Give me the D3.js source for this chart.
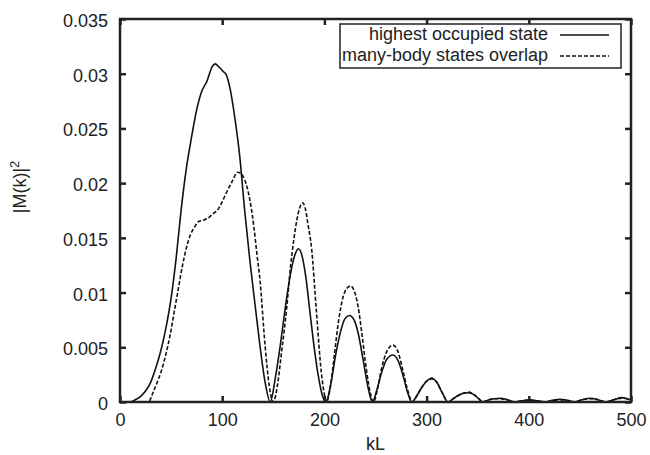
<!DOCTYPE html>
<html>
<head>
<meta charset="utf-8">
<script src="https://cdn.jsdelivr.net/npm/d3@7"></script>
<style>
  body { margin: 0; background: #fff; }
  svg text { font-family: "Liberation Sans", Arial, sans-serif; fill: #222; }
</style>
</head>
<body>
<div id="chart"></div>
<script>
// kL values and |M(k)|^2
const highestState = [
    [0,0],[10,0],[15,0.0002],[20,0.0005],[25,0.0010],[30,0.0018],[35,0.0031],[40,0.0047],
    [45,0.0068],[50,0.0095],[55,0.0132],[60,0.0177],[65,0.0214],[70,0.0242],[75,0.0267],
    [80,0.0284],[85,0.0293],[90,0.0306],[93,0.0309],[97,0.0306],[101,0.0302],[104,0.0299],
    [108,0.0285],[112,0.0262],[117,0.0226],[122,0.0175],[127,0.0130],[132,0.0090],
    [137,0.0051],[142,0.0018],[147,0],
    [152,0.0022],[157,0.0053],[162,0.0088],[167,0.0118],[171,0.0134],[174.5,0.0140],
    [178,0.0134],[182,0.0113],[186,0.0081],[190,0.0050],[194,0.0024],[198,0.0006],[201.5,0],
    [206,0.0015],[211,0.0043],[216,0.0065],[220,0.0076],[224.5,0.0079],[229,0.0075],
    [233,0.0063],[238,0.0038],[243,0.0012],[247,0],
    [251,0.0010],[256,0.0027],[261,0.0039],[267,0.0043],[272,0.0038],[277,0.0024],
    [282,0.0007],[285.5,0],
    [290,0.0005],[295,0.0013],[300,0.0019],[305,0.0022],[310,0.0018],[315,0.0009],[321,0],
    [326,0.0003],[331,0.0006],[336,0.0008],[341,0.00085],[346,0.0007],[351,0.0003],[355,0],
    [361,0.0002],[366,0.0003],[372,0.00034],[378,0.00025],[386,0],
    [393,0.0001],[401,0.0002],[409,0.0001],[416,0],
    [423,0.00015],[430.5,0.00025],[438,0.00015],[445,0],
    [452,0.0002],[460,0.00034],[468,0.0002],[475,0],
    [483,0.0002],[491,0.0004],[496,0.0003],[500,0.0002]
];

const manyBodyOverlap = [
    [0,0],[28,0],[32,0.0008],[36,0.0017],[41,0.0030],[45,0.0044],[49,0.0061],[53,0.0082],
    [57,0.0103],[61,0.0124],[65,0.0141],[69,0.0153],[73,0.0160],[77,0.0165],[81,0.0166],
    [86,0.0168],[91,0.0172],[95,0.0175],[100,0.0183],[104,0.0191],[110,0.0202],[115,0.0210],
    [118,0.0209],[122,0.0203],[127,0.0185],[131,0.0160],[134,0.0135],[137,0.0111],
    [142,0.0051],[146,0.0015],[150,0],
    [154,0.0015],[158,0.0045],[163,0.0085],[167,0.0125],[170,0.0148],[173,0.0166],
    [176,0.0178],[178.7,0.0182],[181,0.0178],[184,0.0162],[187.5,0.0140],[192,0.0085],
    [197,0.0027],[200,0.0007],[202,0],
    [206,0.0015],[210,0.0045],[214,0.0075],[218,0.0095],[222,0.0104],[225.7,0.0106],
    [229,0.0102],[233,0.0087],[237,0.0060],[241,0.0030],[245,0.0008],[248,0],
    [252,0.0012],[256,0.0031],[261,0.0046],[267,0.0052],[272,0.0046],[277,0.0028],
    [282,0.0009],[286,0],
    [290,0.0005],[295,0.0013],[300,0.0019],[305,0.0021],[310,0.0018],[315,0.0009],[321,0],
    [326,0.0003],[331,0.0006],[336,0.0008],[341,0.0009],[346,0.0007],[351,0.0003],[355,0],
    [361,0.0002],[366,0.0003],[372,0.0003],[378,0.0002],[386,0],
    [393,0.0001],[401,0.00015],[409,0.0001],[416,0],
    [423,0.0001],[430.5,0.0002],[438,0.0001],[445,0],
    [452,0.0002],[460,0.0003],[468,0.0002],[475,0],
    [483,0.0002],[491,0.00035],[496,0.0003],[500,0.0002]
];

const xTicks = [0, 100, 200, 300, 400, 500];
const yTicks = [0, 0.005, 0.01, 0.015, 0.02, 0.025, 0.03, 0.035];
const yTickLabels = ["0", "0.005", "0.01", "0.015", "0.02", "0.025", "0.03", "0.035"];
const seriesNames = ["highest occupied state", "many-body states overlap"];

var W = 650, H = 455;
var plot = {left: 120, right: 631, top: 19, bottom: 402};

var svg = d3.select("#chart")
    .append("svg")
    .attr("width", W)
    .attr("height", H);

var x = d3.scaleLinear().domain([0, 500]).range([plot.left, plot.right]);
var y = d3.scaleLinear().domain([0, 0.035]).range([plot.bottom, plot.top]);

// curves
var line = d3.line()
    .x(d => x(d[0]))
    .y(d => y(d[1]))
    .curve(d3.curveMonotoneX);

svg.append("path")
    .datum(manyBodyOverlap)
    .attr("fill", "none")
    .attr("stroke", "#111")
    .attr("stroke-width", 1.6)
    .attr("stroke-dasharray", "4,2")
    .attr("d", line);

svg.append("path")
    .datum(highestState)
    .attr("fill", "none")
    .attr("stroke", "#111")
    .attr("stroke-width", 1.6)
    .attr("d", line);

// axes, gnuplot style: inward ticks mirrored on all sides
function styleAxis(g) {
    g.select(".domain").remove();
    g.selectAll(".tick line").attr("stroke", "#222").attr("stroke-width", 2.5);
    g.selectAll(".tick text").style("font-size", "18px").attr("fill", "#222");
}

svg.append("g")
    .attr("transform", "translate(0," + plot.bottom + ")")
    .call(d3.axisBottom(x).tickValues(xTicks).tickSize(-6).tickPadding(11))
    .call(styleAxis);

svg.append("g")
    .attr("transform", "translate(0," + plot.top + ")")
    .call(d3.axisTop(x).tickValues(xTicks).tickSize(-6).tickFormat(""))
    .call(styleAxis);

svg.append("g")
    .attr("transform", "translate(" + plot.left + ",0)")
    .call(d3.axisLeft(y).tickValues(yTicks).tickSize(-6).tickPadding(12)
        .tickFormat((d, i) => yTickLabels[i]))
    .call(styleAxis)
    .selectAll(".tick text").attr("dy", "0.42em");

svg.append("g")
    .attr("transform", "translate(" + plot.right + ",0)")
    .call(d3.axisRight(y).tickValues(yTicks).tickSize(-6).tickFormat(""))
    .call(styleAxis);

svg.append("rect")
    .attr("x", plot.left)
    .attr("y", plot.top)
    .attr("width", plot.right - plot.left)
    .attr("height", plot.bottom - plot.top)
    .attr("fill", "none")
    .attr("stroke", "#222")
    .attr("stroke-width", 2.5);

// axis titles
svg.append("text")
    .attr("x", (plot.left + plot.right) / 2)
    .attr("y", 450)
    .attr("text-anchor", "middle")
    .style("font-size", "18px")
    .text("kL");

var ylab = svg.append("text")
    .attr("transform", "translate(26,187) rotate(-90)")
    .attr("text-anchor", "middle")
    .style("font-size", "18px");
ylab.append("tspan").text("|M(k)|");
ylab.append("tspan").attr("dy", "-7").style("font-size", "13px").text("2");

// legend
var legend = svg.append("g");

legend.append("rect")
    .attr("x", 340)
    .attr("y", 24)
    .attr("width", 281)
    .attr("height", 44)
    .attr("fill", "#fff")
    .attr("stroke", "#222")
    .attr("stroke-width", 1.5);

var rows = legend.selectAll(".row")
    .data(seriesNames)
    .enter()
    .append("g")
    .attr("class", "row")
    .attr("transform", (d, i) => "translate(0," + (40 + i * 21) + ")");

rows.append("text")
    .attr("x", 548)
    .attr("text-anchor", "end")
    .style("font-size", "18px")
    .text(d => d);

rows.append("line")
    .attr("x1", 560)
    .attr("x2", 609)
    .attr("y1", -5)
    .attr("y2", -5)
    .attr("stroke", "#111")
    .attr("stroke-width", 1.5)
    .attr("stroke-dasharray", (d, i) => i === 1 ? "4,2" : null);
</script>
</body>
</html>
